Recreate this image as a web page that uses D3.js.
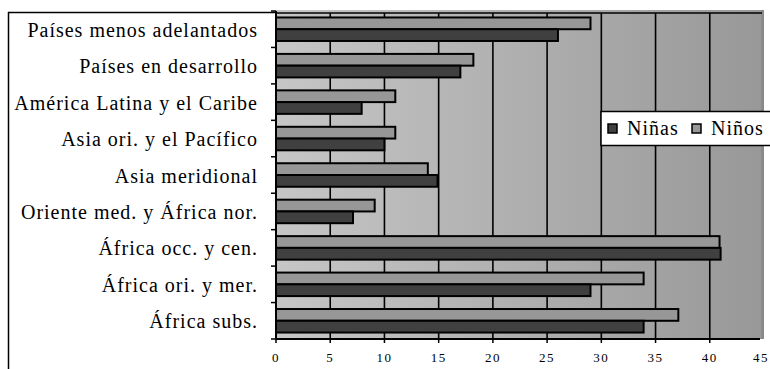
<!DOCTYPE html>
<html><head><meta charset="utf-8">
<script src="https://cdn.jsdelivr.net/npm/d3@7/dist/d3.min.js"></script>
<style>html,body{margin:0;padding:0;background:#fff;}svg{display:block;}
text{font-family:'Liberation Serif','Times New Roman',serif;}</style>
</head><body>
<script>
const categories = ["Países menos adelantados","Países en desarrollo","América Latina y el Caribe","Asia ori. y el Pacífico","Asia meridional","Oriente med. y África nor.","África occ. y cen.","África ori. y mer.","África subs."];
const ninos = [29.0, 18.2, 11.0, 11.0, 14.0, 9.1, 40.9, 33.9, 37.1];
const ninas = [26.0, 17.0, 7.9, 10.0, 14.9, 7.1, 41.0, 29.0, 33.9];
const xTicks = [0,5,10,15,20,25,30,35,40,45];

(function(){
const W = 770, H = 369;
const pL = 276, pR = 764, pT = 11, pB = 339;
const svg = d3.select("body").append("svg").attr("width", W).attr("height", H);

const defs = svg.append("defs");
const grad = defs.append("linearGradient").attr("id","bg").attr("x1","0").attr("x2","1").attr("y1","0").attr("y2","0");
grad.append("stop").attr("offset","0%").attr("stop-color","#c6c6c6");
grad.append("stop").attr("offset","100%").attr("stop-color","#989898");

const x = d3.scaleLinear().domain([0,45]).range([pL, pR]);
const y = d3.scaleBand().domain(categories).range([pT, pB]);
const inner = d3.scaleBand().domain(["Niños","Niñas"]).range([0, y.bandwidth()]).paddingOuter(0.55).paddingInner(0);

svg.append("line").attr("x1",8).attr("x2",pL).attr("y1",12.5).attr("y2",12.5).attr("stroke","#000").attr("stroke-width",1.5);
svg.append("line").attr("x1",8.5).attr("x2",8.5).attr("y1",12).attr("y2",H).attr("stroke","#000").attr("stroke-width",1.5);

svg.append("rect").attr("x",pL).attr("y",pT-1).attr("width",pR-pL).attr("height",pB-pT+1).attr("fill","url(#bg)");
svg.append("rect").attr("x",pR-3).attr("y",pT-1).attr("width",3).attr("height",pB-pT+1).attr("fill","#8a8a8a");
svg.append("line").attr("x1",pL).attr("x2",pR-2).attr("y1",pT+2).attr("y2",pT+2).attr("stroke","#000").attr("stroke-width",1.5);

svg.append("g").selectAll("line").data(xTicks.filter(d=>d>0 && d<45)).join("line")
  .attr("x1",d=>x(d)).attr("x2",d=>x(d)).attr("y1",pT+2).attr("y2",pB)
  .attr("stroke","#000").attr("stroke-width",1.6);

const g = svg.append("g");
categories.forEach((c,i)=>{
  g.append("rect").attr("x",x(0)).attr("y",y(c)+inner("Niños"))
    .attr("width",x(ninos[i])-x(0)).attr("height",inner.bandwidth())
    .attr("fill","#979797").attr("stroke","#000").attr("stroke-width",2);
  g.append("rect").attr("x",x(0)).attr("y",y(c)+inner("Niñas"))
    .attr("width",x(ninas[i])-x(0)).attr("height",inner.bandwidth())
    .attr("fill","#404040").attr("stroke","#000").attr("stroke-width",2);
});

svg.append("line").attr("x1",pL).attr("x2",pL).attr("y1",pT).attr("y2",pB).attr("stroke","#000").attr("stroke-width",2);
const boundaries = d3.range(categories.length+1).map(i=>pT + i*y.step());
svg.append("g").selectAll("line").data(boundaries).join("line")
  .attr("x1",pL-5).attr("x2",pL).attr("y1",d=>d).attr("y2",d=>d).attr("stroke","#000").attr("stroke-width",1.5);
svg.append("g").selectAll("text").data(categories).join("text")
  .attr("x",258).attr("y",d=>y(d)+y.bandwidth()/2+0.5)
  .attr("text-anchor","end").attr("dominant-baseline","central")
  .attr("font-size",20).attr("letter-spacing",1)
  .text(d=>d);

svg.append("line").attr("x1",pL).attr("x2",pR-4).attr("y1",pB).attr("y2",pB).attr("stroke","#000").attr("stroke-width",2);
svg.append("g").selectAll("line").data(xTicks.filter(d=>d<45)).join("line")
  .attr("x1",d=>x(d)).attr("x2",d=>x(d)).attr("y1",pB).attr("y2",pB+4).attr("stroke","#000").attr("stroke-width",1.5);
svg.append("g").selectAll("text").data(xTicks).join("text")
  .attr("x",d=>d===45 ? 769 : x(d)).attr("y",362)
  .attr("text-anchor",d=>d===45 ? "end" : "middle").attr("letter-spacing",1.5)
  .attr("font-size",13)
  .text(d=>d);

const lg = svg.append("g");
lg.append("rect").attr("x",601).attr("y",111.5).attr("width",175).attr("height",34).attr("fill","#fff").attr("stroke","#000").attr("stroke-width",1.5);
const items = [{name:"Niñas", fill:"#404040", x:608},{name:"Niños", fill:"#979797", x:692}];
items.forEach(it=>{
  lg.append("rect").attr("x",it.x).attr("y",124).attr("width",9).attr("height",9).attr("fill",it.fill).attr("stroke","#000").attr("stroke-width",1.5);
  lg.append("text").attr("x",it.x+19).attr("y",135).attr("font-size",20).attr("letter-spacing",1).text(it.name);
});
})();
</script>
</body></html>
